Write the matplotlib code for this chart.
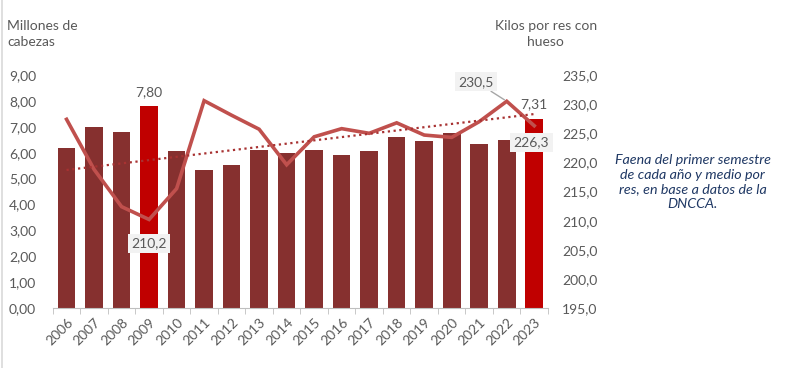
import matplotlib
matplotlib.use("Agg")
import matplotlib.pyplot as plt
import numpy as np
from matplotlib.lines import Line2D

plt.rcParams['font.family'] = ['Lato', 'DejaVu Sans']

years = [str(y) for y in range(2006, 2024)]
faena = [6.17, 7.00, 6.80, 7.80, 6.06, 5.35, 5.53, 6.10, 5.98, 6.10,
         5.92, 6.05, 6.60, 6.46, 6.78, 6.34, 6.49, 7.31]
kilos = [227.4, 218.8, 212.4, 210.2, 215.5, 230.6, 228.1, 225.7, 219.6, 224.4,
         225.8, 225.0, 226.8, 224.7, 224.3, 227.0, 230.5, 226.3]
highlight = ['2009', '2023']
left_ticks = [0, 1, 2, 3, 4, 5, 6, 7, 8, 9]
right_ticks = [195, 200, 205, 210, 215, 220, 225, 230, 235]

dark = '#86302F'
bright = '#C00000'
line_c = '#C0504D'
trend_c = '#A83232'
gray = '#595959'

fig = plt.figure(figsize=(8, 3.68), dpi=100)
ax = fig.add_axes([0.066, 0.163, 0.619, 0.633])
x = np.arange(len(years))
colors = [bright if y in highlight else dark for y in years]
ax.bar(x, faena, width=0.64, color=colors, zorder=2)
ax.set_ylim(0, 9)
ax.set_xlim(-0.5, len(years) - 0.5)
ax.set_yticks(left_ticks)
ax.set_yticklabels([f"{v:.2f}".replace('.', ',') for v in left_ticks])
ax.set_xticks(x)
ax.set_xticklabels(years, rotation=45, ha='right', rotation_mode='anchor')
ax.tick_params(axis='x', length=0, pad=6, labelsize=10, colors=gray)
ax.tick_params(axis='y', length=0, pad=12, labelsize=10, colors=gray)
for s in ['top', 'right', 'left']:
    ax.spines[s].set_visible(False)
ax.spines['bottom'].set_color('#BFBFBF')
# category boundary tick marks
ax.set_xticks(np.arange(-0.5, len(years), 1), minor=True)
ax.tick_params(axis='x', which='minor', length=4, color='#BFBFBF')

ax2 = ax.twinx()
ax2.set_ylim(195, 235)
ax2.plot(x, kilos, color=line_c, lw=2.6, zorder=3, solid_joinstyle='miter')
coef = np.polyfit(x, kilos, 1)
ax2.plot(x, np.polyval(coef, x), color=trend_c, lw=1.6, ls=(0, (1, 1.6)), zorder=3)
ax2.set_yticks(right_ticks)
ax2.set_yticklabels([f"{v:.1f}".replace('.', ',') for v in right_ticks])
ax2.tick_params(axis='y', length=0, pad=10, labelsize=10, colors=gray)
for s in ['top', 'right', 'left', 'bottom']:
    ax2.spines[s].set_visible(False)
ax.set_zorder(1)
ax2.set_zorder(2)
ax2.patch.set_visible(False)

# annotations
i09 = years.index('2009')
i23 = years.index('2023')
i22 = years.index('2022')
ax.annotate(f"{faena[i09]:.2f}".replace('.', ','), (i09, faena[i09]), xytext=(0, 6),
            textcoords='offset points', ha='center', va='bottom', fontsize=10, color=gray)
ax.annotate(f"{faena[i23]:.2f}".replace('.', ','), (i23, faena[i23]), xytext=(0, 6),
            textcoords='offset points', ha='center', va='bottom', fontsize=10, color=gray)
box = dict(boxstyle='square,pad=0.25', fc='#F2F2F2', ec='none')
ax2.annotate(f"{kilos[i09]:.1f}".replace('.', ','), (i09, kilos[i09]), xytext=(0, -17),
             textcoords='offset points', ha='center', va='center', fontsize=10, color=gray, bbox=box)
ax2.annotate(f"{kilos[i22]:.1f}".replace('.', ','), (i22, kilos[i22]), xytext=(-22, 14),
             textcoords='offset points', ha='center', va='center', fontsize=10, color=gray, bbox=box,
             arrowprops=dict(arrowstyle='-', color='#A6A6A6', lw=1, shrinkA=0, shrinkB=2))
ax2.annotate(f"{kilos[i23]:.1f}".replace('.', ','), (i23, kilos[i23]), xytext=(-2, -12),
             textcoords='offset points', ha='center', va='center', fontsize=10, color=gray, bbox=box)

fig.text(0.009, 0.945, "Millones de\ncabezas", ha='left', va='top', fontsize=10, color=gray,
         linespacing=1.35)
fig.text(0.682, 0.945, "Kilos por res con\nhueso", ha='center', va='top', fontsize=10, color=gray,
         linespacing=1.35)
fig.text(0.866, 0.505, "Faena del primer semestre\nde cada año y medio por\nres, en base a datos de la\nDNCCA.",
         ha='center', va='center', fontsize=10.3, style='italic', color='#1F3864', linespacing=1.25)
fig.add_artist(Line2D([0.002, 0.002], [0, 1], color='#D9D9D9', lw=1.2, transform=fig.transFigure))

fig.savefig('out.png', dpi=100)
